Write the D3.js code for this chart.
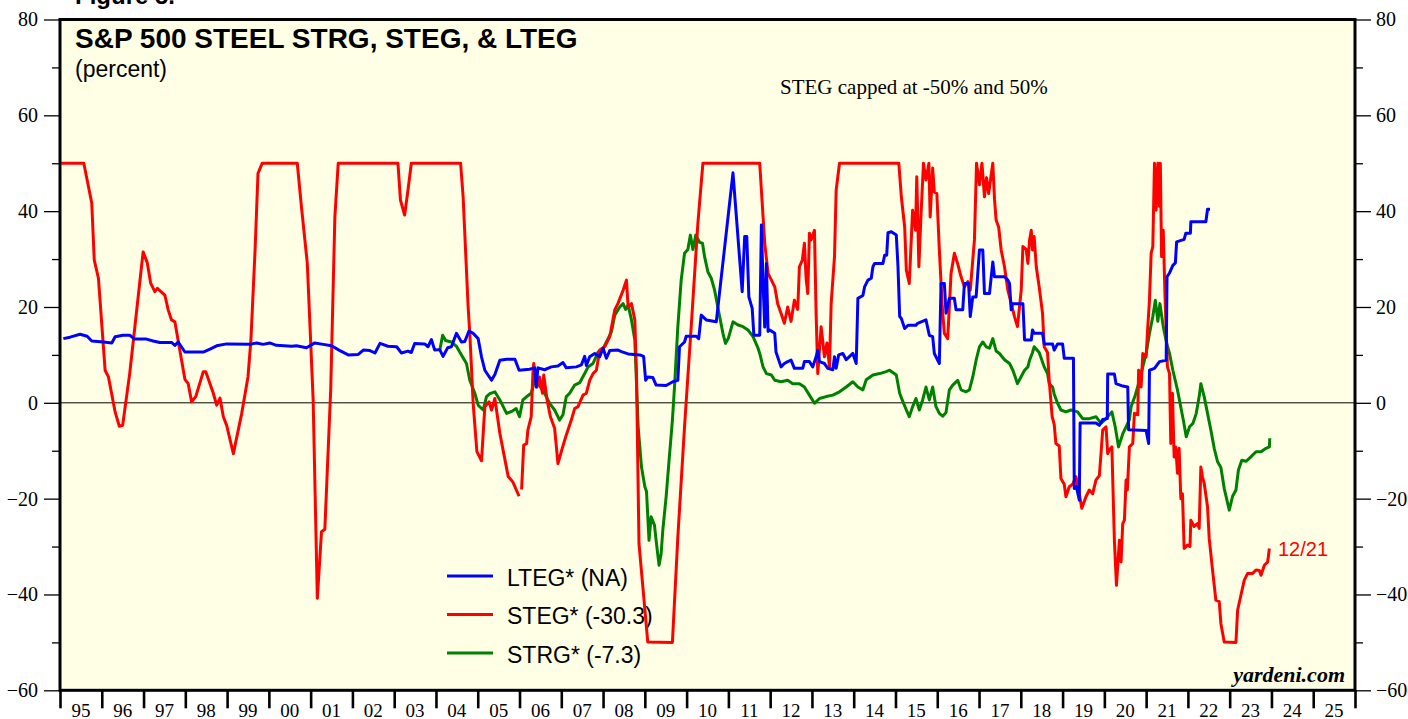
<!DOCTYPE html>
<html><head><meta charset="utf-8">
<script src="https://cdn.jsdelivr.net/npm/d3@7"></script>
<style>html,body{margin:0;padding:0;background:#fff;}svg{display:block;}</style>
</head><body>
<svg id="chart" width="1408" height="719"></svg>
<script>
// ---------- DATA ----------
const yearTickLabels = ["95","96","97","98","99","00","01","02","03","04","05","06","07","08","09","10","11","12","13","14","15","16","17","18","19","20","21","22","23","24","25"];
const yTicksMajor = [-60,-40,-20,0,20,40,60,80];
const yTicksMinor = [-50,-30,-10,10,30,50,70];

const stegYears = [1995.03,1995.57,1995.76,1995.82,1995.92,1996.08,1996.16,1996.32,1996.42,1996.50,1996.67,1996.99,1997.09,1997.17,1997.27,1997.33,1997.51,1997.59,1997.67,1997.75,1997.99,1998.07,1998.15,1998.25,1998.43,1998.49,1998.67,1998.75,1998.83,1998.91,1998.99,1999.15,1999.35,1999.50,1999.57,1999.67,1999.74,1999.84,2000.68,2000.78,2000.92,2001.06,2001.16,2001.26,2001.34,2001.48,2001.58,2001.66,2003.09,2003.15,2003.25,2003.33,2003.41,2004.59,2004.65,2004.77,2004.81,2004.89,2004.98,2005.09,2005.17,2005.27,2005.33,2005.41,2005.53,2005.73,2005.84,2005.99,2006.02,2006.05,2006.10,2006.17,2006.20,2006.28,2006.32,2006.34,2006.42,2006.48,2006.55,2006.58,2006.66,2006.74,2006.84,2006.92,2007.00,2007.12,2007.24,2007.32,2007.40,2007.52,2007.60,2007.68,2007.76,2007.84,2007.92,2008.04,2008.16,2008.28,2008.36,2008.48,2008.56,2008.60,2008.68,2008.76,2008.80,2008.86,2009.07,2009.66,2009.79,2009.95,2010.11,2010.27,2010.39,2011.75,2011.79,2011.87,2011.95,2012.03,2012.11,2012.18,2012.26,2012.34,2012.42,2012.50,2012.58,2012.66,2012.70,2012.77,2012.82,2012.86,2012.90,2012.94,2012.98,2013.06,2013.10,2013.14,2013.22,2013.30,2013.36,2013.42,2013.46,2013.54,2013.58,2013.66,2015.08,2015.14,2015.22,2015.26,2015.33,2015.41,2015.48,2015.51,2015.56,2015.61,2015.67,2015.73,2015.80,2015.83,2015.89,2015.93,2015.99,2016.05,2016.12,2016.17,2016.25,2016.33,2016.41,2016.49,2016.57,2016.65,2016.73,2016.79,2016.89,2016.94,2017.01,2017.07,2017.13,2017.18,2017.23,2017.33,2017.37,2017.41,2017.47,2017.53,2017.61,2017.69,2017.77,2017.85,2017.92,2018.01,2018.05,2018.13,2018.17,2018.21,2018.25,2018.28,2018.32,2018.37,2018.44,2018.52,2018.56,2018.64,2018.68,2018.75,2018.80,2018.84,2018.92,2018.96,2019.04,2019.08,2019.16,2019.24,2019.32,2019.40,2019.46,2019.56,2019.64,2019.72,2019.80,2019.88,2019.92,2019.96,2020.04,2020.08,2020.12,2020.18,2020.24,2020.29,2020.36,2020.40,2020.44,2020.48,2020.52,2020.55,2020.60,2020.68,2020.72,2020.80,2020.82,2020.88,2020.92,2021.00,2021.04,2021.08,2021.12,2021.16,2021.20,2021.24,2021.28,2021.32,2021.34,2021.37,2021.41,2021.45,2021.51,2021.56,2021.59,2021.63,2021.67,2021.71,2021.75,2021.79,2021.83,2021.87,2021.91,2021.99,2022.05,2022.07,2022.15,2022.23,2022.27,2022.31,2022.35,2022.39,2022.47,2022.51,2022.59,2022.67,2022.75,2022.79,2022.87,2023.15,2023.19,2023.27,2023.35,2023.43,2023.55,2023.63,2023.71,2023.75,2023.83,2023.91,2023.95];
const stegValues = [50,50,41.7,29.8,26,6.8,5.4,-1.9,-4.9,-4.7,6.2,31.5,29.2,25,23.2,23.9,22.5,19.4,17.3,16.9,4.9,4,0.2,1.3,6.5,6.5,2,-0.5,1,-2.9,-4.7,-10.6,-2.2,5.4,13.1,31.9,47.9,50,50,40.9,29.1,0.6,-40.8,-26.9,-26.4,2.7,38.8,50,50,42.3,39.2,44.4,50,50,43,20,14.5,-0.1,-10.2,-12.1,-0.8,0.2,-1.5,0.9,-6.4,-15.4,-16.5,-19.5,null,-18.1,-8.8,-8.5,-5.7,-2.9,6.1,8.2,3.3,5.4,2,5.8,0.6,-2.9,-5.3,-12.7,-10.2,-6.7,-3.6,-1.2,-0.8,1.6,2,4.7,6.1,6.8,11,11.7,13.8,19.4,20.8,23.5,25.6,20,20.7,17.3,6.1,-29.4,-49.9,-50,-28,-5,15.9,37.5,50,50,44.4,33.3,27,25.6,24.2,20.7,18.7,16.6,20,17,21.4,19.5,28.4,29.8,33.3,26,22.8,35.4,34,36,18.7,6.1,15.9,9.6,12.5,7.5,20.7,30.5,44.4,50,50,43,36.7,27.7,24.9,40.2,36,47.2,28.4,39,50,46.5,50,38.8,49,44,43.7,31.9,20,14.5,13.4,27,31.2,29,26.3,24.2,25.3,23.5,34,50,45.5,50,43,47,43.7,50,42.5,38.1,36.7,31.9,28.4,23.5,20.7,18,15.9,23.5,32.6,32,29.1,34,36,31.9,34.7,28.4,24.2,18.7,11.7,10.5,4.7,-2.9,-4.5,-8.5,-9,-15.8,-17,-19.6,-17.5,-17,-15.4,-19,-22,-19.6,-18.2,-19,-16.1,-15.2,-10.6,-5.7,-5,-10.6,-9.8,-9.2,-28.7,-38.1,-28.7,-33.2,-25.2,-24.5,-16.1,-18.2,-9.2,-8.5,-2.2,-2.5,6.8,3.3,10.3,9.6,15.9,21.4,31.2,32.6,50,40.2,50,41,50,30.5,36,22.8,7.5,6.1,-8.5,2,-11.3,-9.2,-14.7,-9.5,-20,-19,-30.4,-29.7,-30,-24.5,-25.8,-25.2,-26.2,-13.4,-15.5,-16.8,-21.7,-28.3,-34.9,-41.2,-41.5,-46.1,-49.9,-50,-43.3,-40.1,-37,-35.6,-35.6,-34.9,-35,-36,-33.9,-33.2,-30.4];

const strgYears = [2004.09,2004.16,2004.23,2004.37,2004.49,2004.61,2004.73,2004.81,2004.93,2005.01,2005.13,2005.21,2005.29,2005.41,2005.53,2005.69,2005.81,2005.92,2006.00,2006.08,2006.16,2006.28,2006.36,2006.48,2006.60,2006.72,2006.84,2006.96,2007.04,2007.12,2007.20,2007.32,2007.44,2007.56,2007.64,2007.76,2007.88,2008.00,2008.08,2008.20,2008.28,2008.40,2008.48,2008.54,2008.60,2008.68,2008.76,2008.84,2008.92,2009.00,2009.04,2009.10,2009.15,2009.23,2009.27,2009.34,2009.39,2009.43,2009.51,2009.58,2009.66,2009.71,2009.79,2009.87,2009.95,2010.03,2010.09,2010.15,2010.22,2010.31,2010.38,2010.43,2010.51,2010.59,2010.67,2010.79,2010.87,2010.93,2011.00,2011.11,2011.22,2011.35,2011.47,2011.59,2011.71,2011.75,2011.83,2011.91,2012.03,2012.11,2012.26,2012.42,2012.54,2012.70,2012.82,2012.94,2013.06,2013.18,2013.34,2013.50,2013.66,2013.82,2013.98,2014.10,2014.22,2014.30,2014.46,2014.62,2014.78,2014.86,2015.02,2015.10,2015.18,2015.26,2015.33,2015.41,2015.49,2015.57,2015.65,2015.73,2015.81,2015.89,2015.97,2016.05,2016.13,2016.21,2016.29,2016.37,2016.49,2016.57,2016.69,2016.77,2016.85,2016.93,2017.01,2017.09,2017.17,2017.25,2017.33,2017.41,2017.49,2017.61,2017.73,2017.81,2017.85,2017.92,2018.01,2018.09,2018.17,2018.21,2018.28,2018.32,2018.44,2018.56,2018.64,2018.68,2018.76,2018.80,2018.88,2018.96,2019.08,2019.20,2019.36,2019.48,2019.64,2019.80,2019.92,2020.04,2020.18,2020.26,2020.34,2020.44,2020.52,2020.60,2020.64,2020.74,2020.84,2020.92,2021.00,2021.08,2021.16,2021.22,2021.28,2021.33,2021.41,2021.49,2021.56,2021.64,2021.75,2021.81,2021.89,2021.96,2022.04,2022.12,2022.20,2022.27,2022.31,2022.39,2022.47,2022.55,2022.63,2022.71,2022.79,2022.87,2022.99,2023.07,2023.15,2023.21,2023.29,2023.39,2023.47,2023.63,2023.75,2023.87,2023.95,2023.96];
const strgValues = [10.9,14.1,13,12.7,11.8,10,8.2,4.7,2,-0.5,-1.5,1.3,1.9,2.3,0.6,-2.2,-1.8,-1.2,-2.9,0.6,1.2,2,4.7,3.6,2,-0.1,-1.5,-3.6,-2.5,1.3,2,3.7,4.2,6.1,7.5,8.2,10.6,11.3,12.7,14.8,18.3,20,20.7,19.5,20.4,17.3,13.1,-5,-13.4,-17.5,-18.5,-28.7,-23.8,-25.5,-28.7,-33.9,-31.5,-26.6,-19.6,-12,-3.6,3.3,15.9,25.6,31.2,32,35,32,35,33.5,33.3,30.5,27.3,26,23.5,18,14.5,12.4,13.5,16.9,16.3,15.9,15.2,13.8,11.4,10.3,7.5,6.1,5.8,4.7,4.4,4.7,4,4,3.3,1.6,-0.1,0.9,1.3,1.6,2.3,3.3,4.4,3.3,2.7,4.8,5.8,6.1,6.5,6.8,5.8,2,0.2,-1.5,-2.9,-0.8,0.9,-1.5,0.6,3.3,0.6,3.3,-0.8,-2.2,-2.8,-2,2.7,3.7,4.7,2.7,2.3,2.7,5.4,8.9,11.7,12.7,11.7,11.4,13.4,10.8,10.3,9,8.2,6.8,5.8,4,5.5,6.8,7.5,8.9,10.5,11.7,10.5,7.5,6.1,4,3.3,1.8,-0.1,-1.5,-1.9,-1.5,-1.9,-3.3,-3.3,-2.9,-4.3,-3.3,-1.9,-5,-9.2,-6.5,-5,-3.5,-0.8,1.6,4.6,7.5,10.3,14.5,18,21.4,17,20.7,15.9,12.5,10.3,6.8,2.7,0,-3.6,-7.1,-5,-4.3,-2.2,1.3,4,1.3,-2.2,-5.7,-9.5,-12.3,-13.5,-17.9,-22.4,-19.5,-18.2,-14,-12,-12.2,-11.6,-10.2,-10.2,-9.5,-9.2,-7.4];

const ltegYears = [1995.08,1995.24,1995.48,1995.65,1995.76,1996.04,1996.24,1996.32,1996.51,1996.67,1996.79,1997.07,1997.23,1997.39,1997.67,1997.75,1997.83,1997.99,1998.43,1998.59,1998.75,1998.99,1999.55,1999.71,1999.86,2000.02,2000.18,2000.55,2000.66,2000.90,2001.10,2001.30,2001.50,2001.70,2001.90,2002.14,2002.26,2002.42,2002.54,2002.66,2002.85,2003.06,2003.17,2003.33,2003.41,2003.49,2003.73,2003.81,2003.89,2003.97,2004.09,2004.17,2004.28,2004.37,2004.49,2004.61,2004.69,2004.79,2004.89,2005.01,2005.09,2005.17,2005.33,2005.41,2005.53,2005.69,2005.89,2005.99,2006.24,2006.36,2006.40,2006.44,2006.60,2006.76,2006.92,2007.04,2007.12,2007.36,2007.48,2007.56,2007.60,2007.68,2007.80,2007.92,2008.00,2008.08,2008.16,2008.36,2008.44,2008.60,2008.88,2008.97,2009.02,2009.07,2009.19,2009.27,2009.51,2009.67,2009.79,2009.83,2009.95,2009.99,2010.23,2010.29,2010.35,2010.47,2010.71,2011.11,2011.33,2011.39,2011.44,2011.49,2011.57,2011.61,2011.75,2011.79,2011.83,2011.87,2011.91,2011.95,2011.99,2012.11,2012.14,2012.26,2012.34,2012.42,2012.50,2012.58,2012.78,2012.82,2012.94,2013.02,2013.10,2013.14,2013.18,2013.30,2013.38,2013.50,2013.54,2013.58,2013.64,2013.74,2013.82,2013.98,2014.06,2014.10,2014.22,2014.26,2014.34,2014.42,2014.46,2014.50,2014.70,2014.74,2014.79,2014.82,2014.90,2015.02,2015.06,2015.10,2015.14,2015.22,2015.30,2015.49,2015.53,2015.73,2015.81,2015.89,2015.93,2016.05,2016.09,2016.17,2016.21,2016.29,2016.41,2016.45,2016.61,2016.65,2016.75,2016.79,2016.85,2016.93,2017.01,2017.09,2017.13,2017.25,2017.33,2017.37,2017.61,2017.69,2017.73,2017.77,2017.80,2018.05,2018.09,2018.25,2018.28,2018.32,2018.52,2018.56,2018.76,2018.80,2018.88,2019.00,2019.04,2019.26,2019.28,2019.33,2019.40,2019.42,2019.80,2019.88,2019.96,2020.07,2020.08,2020.24,2020.28,2020.44,2020.56,2020.58,2021.00,2021.06,2021.08,2021.20,2021.32,2021.48,2021.50,2021.56,2021.64,2021.70,2021.73,2021.91,2021.95,2022.06,2022.07,2022.43,2022.47,2022.53];
const ltegValues = [13.4,13.7,14.3,13.9,12.9,12.7,12.5,13.8,14.1,14.1,13.3,13.3,12.9,12.6,12.6,12,12.7,10.6,10.6,11.2,11.9,12.3,12.2,12.5,12.2,12.5,12,11.8,11.9,11.5,12.5,12.2,11.9,10.9,10,10.1,11,10.9,10.4,12.4,11.8,11.7,10.4,10.8,10.5,12.4,12.3,11.7,13.2,11,11.1,9.7,11.5,11.7,14.5,12.7,12.8,15,14.5,13.4,9.6,6.8,4.7,5.9,8.9,9.1,9.1,6.8,7,7.3,3.3,7.3,6.9,7.5,7.7,8.4,7.3,7.5,7.9,9.7,7.8,9.6,10.3,9.6,11.4,9.3,10.9,11,10.7,10.2,10,9.7,4.7,5.4,5.3,3.7,3.6,4.4,4.7,11.7,12.7,13.9,13.9,13.4,18.3,17.3,16.9,48,23.2,34.7,34.7,22.1,19.7,14.1,14.1,37.1,25,15.8,29.1,14.9,15.2,14.5,10.6,7.5,8.2,8.6,8.9,7.2,7.2,8.6,8.6,7.5,9.6,11,8.6,8.2,7.2,6.9,9.6,7.2,10,10.3,9,10.3,8.2,21.8,22.4,24.2,25.6,26,28.4,29.1,29.1,30.8,30.8,35.5,35.7,35,28.4,18,17.6,15.5,16.2,16.2,16.6,17.3,14.1,13.8,10.3,8.2,24.9,24.9,18.7,21.8,21.8,19.4,19.4,24.9,24.9,18,22.1,22.1,31.9,31.9,22.8,22.8,29.4,26.3,26.3,25.6,24.9,19.4,20.7,20.7,13.1,13.1,15.2,14.5,14.5,12.3,12.3,11,12.3,12.3,9.3,9.3,-17.9,-17.5,-20.3,-4.2,-4.2,-4.7,-3.5,-3.3,6,6,4,3.5,3.3,-5.6,-5.8,-8.5,6.8,7.2,8.6,8.9,26.3,27.1,28.7,29.2,33.6,34.1,35.4,35.4,37.8,37.8,40.4,40.4];

const seriesNames = ["LTEG* (NA)", "STEG* (-30.3)", "STRG* (-7.3)"];
const seriesColors = ["#0000ff", "#ff0000", "#008000"];

// ---------- LAYOUT ----------
const svg = d3.select("#chart");
const L = 60, R = 1355, T = 19.5, B = 690.3;
const x = d3.scaleLinear().domain([1995, 2026]).range([L, R]);
const y = d3.scaleLinear().domain([-60, 80]).range([B, T]);

const serif = "'Liberation Serif','Times New Roman',serif";
const sans = "'Liberation Sans',Arial,Helvetica,sans-serif";

// Figure label (partly above the top edge, as in the source)
svg.append("text").attr("x", 75).attr("y", 4).attr("font-family", sans).attr("font-weight", "bold")
  .attr("font-size", 24).text("Figure 5.");

// plot background
svg.append("rect").attr("x", L).attr("y", T).attr("width", R - L).attr("height", B - T).attr("fill", "#ffffe6");

// zero line
svg.append("line").attr("x1", L).attr("x2", R).attr("y1", y(0)).attr("y2", y(0))
  .attr("stroke", "#000").attr("stroke-width", 1);

// y axes
function yAxes(axisFn, tx, isLeft) {
  const gMaj = svg.append("g").attr("transform", `translate(${tx},0)`)
    .call(axisFn(y).tickValues(yTicksMajor).tickSize(16).tickPadding(isLeft ? 6 : 5).tickFormat(d3.format("d")));
  gMaj.select(".domain").remove();
  gMaj.selectAll("line").attr("stroke", "#000").attr("stroke-width", 1.3);
  gMaj.selectAll("text").attr("font-family", serif).attr("font-size", 20).attr("fill", "#000");
  const gMin = svg.append("g").attr("transform", `translate(${tx},0)`)
    .call(axisFn(y).tickValues(yTicksMinor).tickSize(8).tickFormat(""));
  gMin.select(".domain").remove();
  gMin.selectAll("line").attr("stroke", "#000").attr("stroke-width", 1.3);
}
yAxes(d3.axisLeft, L, true);
yAxes(d3.axisRight, R, false);

// x axis ticks
const years = d3.range(1995, 2027);
const gx = svg.append("g").attr("transform", `translate(0,${B})`)
  .call(d3.axisBottom(x).tickValues(years).tickSize(18).tickFormat(""));
gx.select(".domain").remove();
gx.selectAll("line").attr("stroke", "#000").attr("stroke-width", 2.6);
svg.append("g").selectAll("text").data(yearTickLabels).join("text")
  .attr("x", (d, i) => x(1995 + i + 0.5)).attr("y", 717)
  .attr("text-anchor", "middle").attr("font-family", serif).attr("font-size", 19).text(d => d);

// title
svg.append("text").attr("x", 75).attr("y", 48).attr("font-family", sans).attr("font-weight", "bold")
  .attr("font-size", 28).text("S&P 500 STEEL STRG, STEG, & LTEG");
svg.append("text").attr("x", 75).attr("y", 77).attr("font-family", sans)
  .attr("font-size", 23).text("(percent)");
svg.append("text").attr("x", 780).attr("y", 94).attr("font-family", serif)
  .attr("font-size", 21).text("STEG capped at -50% and 50%");
svg.append("text").attr("x", 1345).attr("y", 682).attr("text-anchor", "end").attr("font-family", serif)
  .attr("font-weight", "bold").attr("font-style", "italic").attr("font-size", 22).text("yardeni.com");

// legend
const legY = [576, 614.5, 653];
const lg = svg.append("g");
seriesNames.forEach((n, i) => {
  lg.append("line").attr("x1", 447).attr("x2", 493).attr("y1", legY[i]).attr("y2", legY[i])
    .attr("stroke", seriesColors[i]).attr("stroke-width", 3);
  lg.append("text").attr("x", 507).attr("y", legY[i] + 9.5).attr("font-family", sans)
    .attr("font-size", 23).text(n);
});

// series
const line = d3.line().defined(d => d[1] !== null).x(d => x(d[0])).y(d => y(d[1]));
const mk = (ys, vs) => ys.map((t, i) => [t, vs[i]]);
const series = [
  {d: mk(strgYears, strgValues), c: seriesColors[2]},
  {d: mk(stegYears, stegValues), c: seriesColors[1]},
  {d: mk(ltegYears, ltegValues), c: seriesColors[0]}
];
svg.append("g").selectAll("path").data(series).join("path")
  .attr("d", s => line(s.d)).attr("fill", "none").attr("stroke", s => s.c)
  .attr("stroke-width", 3).attr("stroke-linejoin", "round");

// end label
svg.append("text").attr("x", 1278).attr("y", 556).attr("font-family", sans).attr("font-size", 20)
  .attr("fill", "#ff0000").text("12/21");

// border
svg.append("rect").attr("x", L).attr("y", T).attr("width", R - L).attr("height", B - T)
  .attr("fill", "none").attr("stroke", "#000").attr("stroke-width", 3);
</script>
</body></html>
